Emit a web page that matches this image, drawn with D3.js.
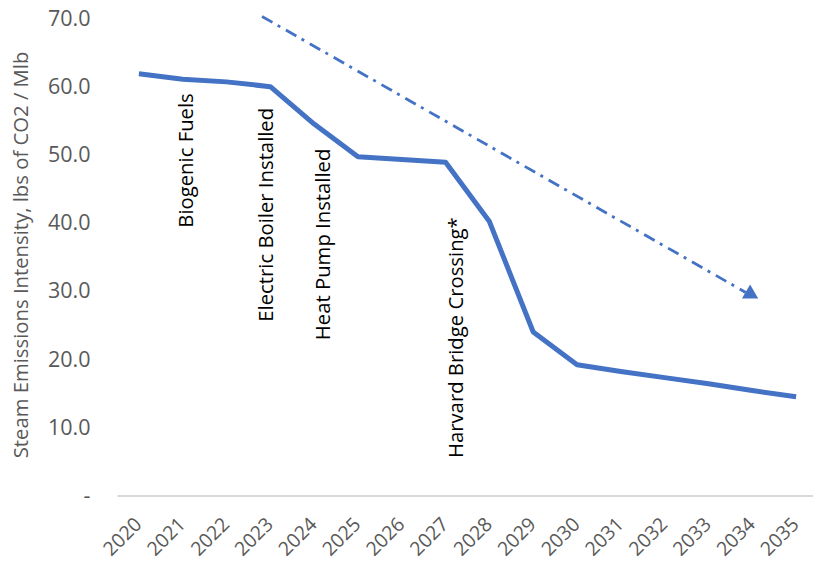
<!DOCTYPE html>
<html>
<head>
<meta charset="utf-8">
<script src="https://cdn.jsdelivr.net/npm/d3@7"></script>
<style>
  body { margin: 0; background: #fff; }
  svg { display: block; font-family: "Open Sans", sans-serif; }
</style>
</head>
<body>
<svg id="chart" width="813" height="561"></svg>
<script>
"use strict"

// chart data
const years = ["2020", "2021", "2022", "2023", "2024", "2025", "2026", "2027",
               "2028", "2029", "2030", "2031", "2032", "2033", "2034", "2035"];
const intensity = [61.9, 61.1, 60.7, 60.0, 54.5, 49.7, 49.3, 48.9,
                   40.2, 24.0, 19.2, 18.2, 17.3, 16.4, 15.4, 14.5];
const yTicks = [0, 10, 20, 30, 40, 50, 60, 70];

// milestone labels: year position (fractional index) and value where the text starts
const milestones = [
    { label: "Biogenic Fuels", pos: 1.23, start: 39.3 },
    { label: "Electric Boiler Installed", pos: 3.06, start: 25.5 },
    { label: "Heat Pump Installed", pos: 4.36, start: 22.8 },
    { label: "Harvard Bridge Crossing*", pos: 7.39, start: 5.5 }
];

// trend arrow: [position, value] from start to end, plus the head
const trendPos = [2.81, 13.85];
const trendVal = [70.3, 29.8];
const headPos = 13.95;
const headVal = 29.6;

const svg = d3.select("#chart");
const blue = "#4472C4";
const grey = "#595959";

const x = d3.scaleBand()
    .domain(years)
    .range([117, 818]);

// continuous position scale matching band centres
const xPos = d3.scaleLinear()
    .domain([0, years.length - 1])
    .range([x(years[0]) + x.bandwidth() / 2, x(years[years.length - 1]) + x.bandwidth() / 2]);

const y = d3.scaleLinear()
    .domain([0, 70])
    .range([495.5, 18.5]);

// y axis labels (no line)
const yAxis = svg.append("g")
    .attr("transform", `translate(117, 0)`)
    .call(d3.axisLeft(y).tickValues(yTicks).tickSize(0).tickPadding(26.5)
        .tickFormat(d => d === 0 ? "-" : d3.format(".1f")(d)));
yAxis.select(".domain").remove();
yAxis.selectAll("text")
    .attr("fill", grey)
    .style("font-size", "21.5px")
    .style("font-family", "Open Sans, sans-serif");

// x axis
const xAxis = svg.append("g")
    .attr("transform", `translate(0, ${y(0)})`)
    .call(d3.axisBottom(x).tickSize(0));
xAxis.select(".domain").attr("stroke", "#d9d9d9").attr("stroke-width", 2);
xAxis.selectAll("text")
    .attr("fill", grey)
    .style("font-size", "19.5px")
    .style("font-family", "Open Sans, sans-serif")
    .style("text-anchor", "end")
    .attr("x", 0)
    .attr("y", 0)
    .attr("dy", 0)
    .attr("transform", "translate(4, 30) rotate(-45)");

// y axis title
svg.append("text")
    .attr("transform", `translate(27.5, 255) rotate(-90)`)
    .attr("text-anchor", "middle")
    .attr("fill", grey)
    .style("font-size", "20.3px")
    .text("Steam Emissions Intensity, lbs of CO2 / Mlb");

// main line
const line = d3.line()
    .x((d, i) => x(years[i]) + x.bandwidth() / 2)
    .y(d => y(d));

svg.append("path")
    .datum(intensity)
    .attr("fill", "none")
    .attr("stroke", blue)
    .attr("stroke-width", 5)
    .attr("stroke-linejoin", "round")
    .attr("d", line);

// trend arrow, dash-dot line
svg.append("line")
    .attr("x1", xPos(trendPos[0]))
    .attr("y1", y(trendVal[0]))
    .attr("x2", xPos(trendPos[1]))
    .attr("y2", y(trendVal[1]))
    .attr("stroke", blue)
    .attr("stroke-width", 2.8)
    .attr("stroke-dasharray", "12,6,3,6.5");

// triangle head
svg.append("path")
    .attr("d", d3.symbol(d3.symbolTriangle, 115)())
    .attr("transform", `translate(${xPos(headPos)}, ${y(headVal)})`)
    .attr("fill", blue);

// milestone labels
svg.selectAll(".milestone")
    .data(milestones)
    .enter().append("text")
    .attr("class", "milestone")
    .attr("transform", d => `translate(${xPos(d.pos)}, ${y(d.start)}) rotate(-90)`)
    .attr("text-anchor", "start")
    .attr("fill", "#000")
    .style("font-size", "20.3px")
    .text(d => d.label);
</script>
</body>
</html>
